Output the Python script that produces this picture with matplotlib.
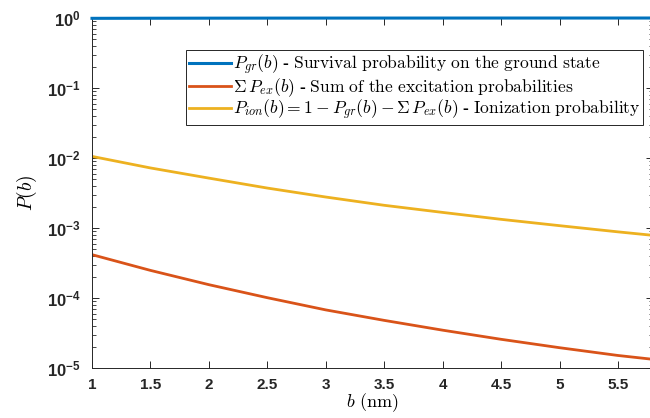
import numpy as np
import matplotlib
matplotlib.use("Agg")
import matplotlib.pyplot as plt

# readings from the reference chart
b_nm = [1.0, 1.5, 2.0, 2.5, 3.0, 3.5, 4.0, 4.5, 5.0, 5.5, 5.8]
p_ground = [0.98904, 0.99254, 0.99469, 0.99618, 0.99716, 0.99784,
            0.99830, 0.99864, 0.99890, 0.99910, 0.99920]
p_excit = [4.16e-4, 2.48e-4, 1.55e-4, 1.01e-4, 6.76e-5, 4.79e-5,
           3.47e-5, 2.57e-5, 1.95e-5, 1.51e-5, 1.33e-5]
p_ion = [1.054e-2, 7.21e-3, 5.16e-3, 3.72e-3, 2.77e-3, 2.11e-3,
         1.67e-3, 1.33e-3, 1.08e-3, 8.81e-4, 7.85e-4]

x_ticks = [1, 1.5, 2, 2.5, 3, 3.5, 4, 4.5, 5, 5.5]
y_ticks = [1e-5, 1e-4, 1e-3, 1e-2, 1e-1, 1e0]
y_labels = [r"$10^{-5}$", r"$10^{-4}$", r"$10^{-3}$", r"$10^{-2}$", r"$10^{-1}$", r"$10^{0}$"]

legend_labels = [
    r"$P_{gr}(b)$ - $\mathrm{Survival\ probability\ on\ the\ ground\ state}$",
    r"$\Sigma\, P_{ex}(b)$ - $\mathrm{Sum\ of\ the\ excitation\ probabilities}$",
    r"$P_{ion}(b) = 1 - P_{gr}(b) - \Sigma\, P_{ex}(b)$ - $\mathrm{Ionization\ probability}$",
]

plt.rcParams['font.family'] = 'Liberation Sans'
plt.rcParams['font.weight'] = 'bold'
plt.rcParams['mathtext.fontset'] = 'cm'
plt.rcParams['mathtext.rm'] = 'Liberation Sans:bold'
plt.rcParams['mathtext.it'] = 'Liberation Sans:bold'
plt.rcParams['mathtext.bf'] = 'Liberation Sans:bold'

fig = plt.figure(figsize=(6.5, 4.18), dpi=100)
ax = fig.add_axes([92/650, 1 - 368/418, 561/650, 350/418])

ax.plot(b_nm, p_ground, color='#0072BD', lw=2.2, clip_on=False, zorder=5, label=legend_labels[0])
ax.plot(b_nm, p_excit, color='#D95319', lw=2, label=legend_labels[1])
ax.plot(b_nm, p_ion, color='#EDB120', lw=2, label=legend_labels[2])

ax.set_yscale('log')
ax.set_xlim(1, 5.8)
ax.set_ylim(1e-5, 1)
ax.set_xticks(x_ticks)
ax.set_xticklabels([f"{v:g}" for v in x_ticks], fontsize=11, fontweight='bold')
ax.set_yticks(y_ticks)
ax.set_yticklabels(y_labels, fontsize=12, math_fontfamily='custom')

ax.tick_params(which='both', direction='in', top=True, right=True, colors='#262626')
ax.tick_params(which='major', length=5, width=0.7)
ax.tick_params(which='minor', length=3, width=0.6)
ax.tick_params(axis='y', pad=8)
ax.tick_params(axis='x', pad=7)
for s in ax.spines.values():
    s.set_color('#262626')
    s.set_linewidth(0.7)

ax.set_xlabel(r"$b\ \mathrm{(nm)}$", fontsize=13, labelpad=0)
ax.set_ylabel(r"$P(b)$", fontsize=14, labelpad=6)

leg = ax.legend(loc='upper right', bbox_to_anchor=(0.982, 0.909), fontsize=12.6,
                frameon=True, fancybox=False, framealpha=1, edgecolor='#262626',
                handlelength=2.4, handletextpad=0.1, labelspacing=-0.04,
                borderpad=0.15, borderaxespad=0)
leg.get_frame().set_linewidth(0.7)

fig.savefig('out.png', dpi=100)
